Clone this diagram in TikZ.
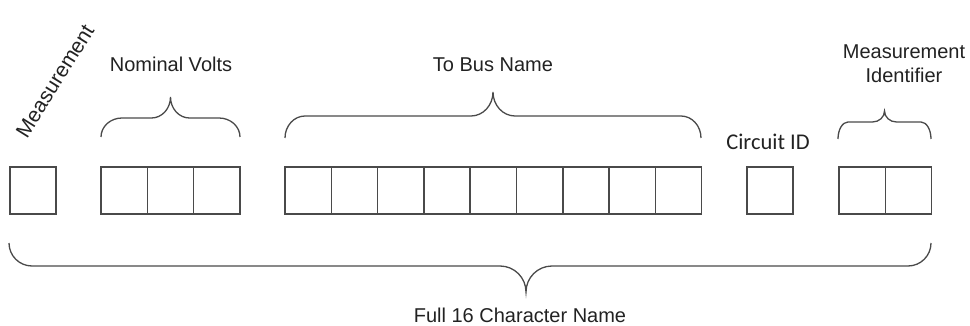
\documentclass[tikz,border=0pt]{standalone}
\usepackage{fontspec}
\setmainfont{Liberation Sans}
\newfontfamily\arialish{Liberation Sans}
\newfontfamily\calib{Carlito}
\definecolor{linegray}{HTML}{4A4A4A}
\definecolor{txtgray}{HTML}{222222}
\newcommand\cbrace[8]{%
  % #1 x1, #2 x2, #3 xm(tip), #4 y end, #5 y line, #6 y tip, #7 end radius, #8 tip radius
  \draw[bracestyle] (#1,#4)
    .. controls (#1,{#4+0.552*(#5-#4)}) and ({#1+#7-0.552*#7},#5) .. ({#1+#7},#5)
    -- ({#3-#8},#5)
    .. controls ({#3-#8+0.552*#8},#5) and (#3,{#6+0.552*(#5-#6)}) .. (#3,#6)
    .. controls (#3,{#6+0.552*(#5-#6)}) and ({#3+#8-0.552*#8},#5) .. ({#3+#8},#5)
    -- ({#2-#7},#5)
    .. controls ({#2-#7+0.552*#7},#5) and (#2,{#4+0.552*(#5-#4)}) .. (#2,#4);}
\begin{document}
\begin{tikzpicture}[x=1pt,y=-1pt,
  cell/.style={draw=linegray,line width=1.5pt,minimum width=46.3pt,minimum height=47pt,inner sep=0pt,outer sep=0pt},
  bracestyle/.style={draw=linegray,line width=1.3pt},
  lbl/.style={text=txtgray,font=\arialish\fontsize{20}{24}\selectfont,inner sep=0pt,anchor=base}]
\useasboundingbox (0,0) rectangle (970,326);
% boxes
\node[cell] (m1) at (33,190.5) {};
\foreach \i in {1,2,3}{\node[cell] (nv\i) at ({101+23.15+46.3*(\i-1)},190.5) {};}
\foreach \i in {1,...,9}{\node[cell] (tb\i) at ({285+23.15+46.3*(\i-1)},190.5) {};}
\node[cell] (c1) at (770,190.5) {};
\foreach \i in {1,2}{\node[cell] (mi\i) at ({839+23.15+46.3*(\i-1)},190.5) {};}
% braces
\cbrace{101}{240}{170.5}{137}{118}{97}{21}{19}
\cbrace{285}{701}{493}{138}{116}{92}{20}{22}
\cbrace{838}{931}{884.5}{139}{122}{111}{10}{12}
\cbrace{9}{931}{526}{243}{266}{292}{23}{26}
% labels
\node[text=txtgray,font=\arialish\fontsize{21}{24}\selectfont,inner sep=0pt,rotate=58] (lm) at (55,81) {Measurement};
\node[lbl] (lnv) at (171,71.5) {Nominal Volts};
\node[lbl] (ltb) at (493,72) {To Bus Name};
\node[lbl,font=\calib\fontsize{22.5}{24}\selectfont] (lc) at (768,150) {Circuit ID};
\node[lbl,align=center] (lmi) at (904,83) {Measurement\\Identifier};
\node[lbl] (lf) at (520,322) {Full 16 Character Name};
\end{tikzpicture}
\end{document}
